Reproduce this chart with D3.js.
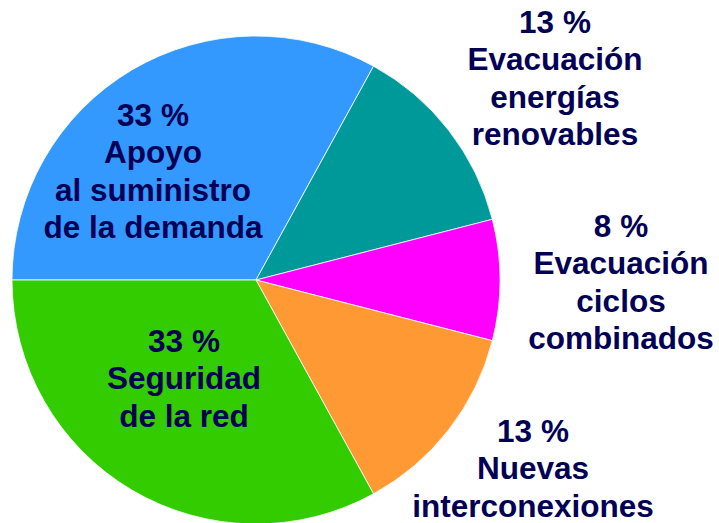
<!DOCTYPE html>
<html>
<head>
<meta charset="utf-8">
<script src="https://cdn.jsdelivr.net/npm/d3@7"></script>
<style>
  body { margin: 0; background: #fff; }
  svg { display: block; }
  .lbl { font-family: "Liberation Sans", Arial, sans-serif; font-weight: bold; font-size: 31.5px; fill: #000055; }
</style>
</head>
<body>
<div id="chart"></div>
<script>
// data
var percents = [33, 13, 8, 13, 33]
var labelLines = [
  ["Apoyo", "al suministro", "de la demanda"],
  ["Evacuación", "energías", "renovables"],
  ["Evacuación", "ciclos", "combinados"],
  ["Nuevas", "interconexiones"],
  ["Seguridad", "de la red"]
]
var colors = ["#3399ff", "#009999", "#ff00ff", "#ff9933", "#33cc00"]

// layout: label anchor (centre x, first baseline) relative to pie centre
var labelAnchor = [[-103, -154], [299, -247], [365, -43], [277, 162], [-72, 72]]

var width = 719, height = 523
var cx = 256, cy = 280, radius = 244
var lineH = 37.3

var svg = d3.select("#chart").append("svg")
    .attr("width", width)
    .attr("height", height)

var g = svg.append("g")
    .attr("transform", "translate(" + cx + "," + cy + ")")

var pie = d3.pie()
    .sort(null)
    .startAngle(-Math.PI / 2)
    .endAngle(Math.PI * 3 / 2)

var arc = d3.arc().innerRadius(0).outerRadius(radius)

g.selectAll(".slice")
  .data(pie(percents))
  .enter()
  .append("path")
  .attr("class", "slice")
  .attr("d", arc)
  .attr("fill", function(d, i){ return colors[i] })
  .attr("stroke", "#fff")
  .attr("stroke-width", 0.8)

var labels = g.selectAll(".lbl")
  .data(percents)
  .enter()
  .append("text")
  .attr("class", "lbl")
  .attr("text-anchor", "middle")

labels.each(function(d, i){
  var t = d3.select(this)
  var a = labelAnchor[i]
  var lines = [d + " %"].concat(labelLines[i])
  lines.forEach(function(s, k){
    t.append("tspan")
      .attr("x", a[0])
      .attr("y", a[1] + k * lineH)
      .text(s)
  })
})
</script>
</body>
</html>
